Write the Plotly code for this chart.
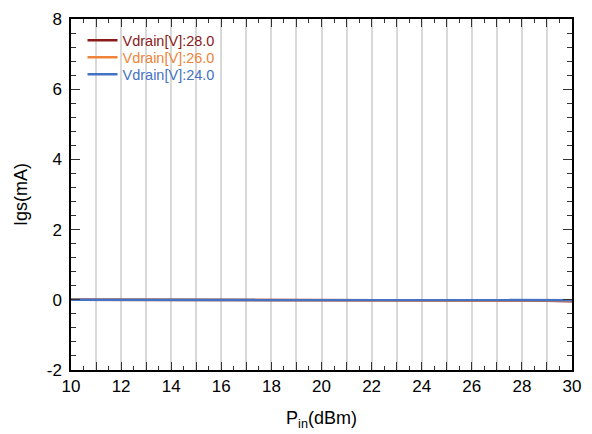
import plotly.graph_objects as go

pin = [10, 11, 12, 13, 14, 15, 16, 17, 18, 19, 20, 21, 22, 23, 24, 25, 26, 27, 28, 29, 30]
igs_28 = [0, 0, 0, 0, 0, 0, 0, 0, 0, 0, 0, 0, 0, 0, 0, 0, -0.005, -0.01, -0.02, -0.03, -0.04]
igs_26 = [0, 0, 0, 0, 0, 0, 0, 0, 0, 0, 0, 0, 0, 0, 0, 0, -0.005, -0.01, -0.015, -0.02, -0.03]
igs_24 = [0, 0, 0, 0, 0, 0, 0, 0, 0, 0, 0, 0, 0, 0, 0, 0, 0, 0, 0, -0.005, -0.01]
series_names = ["Vdrain[V]:28.0", "Vdrain[V]:26.0", "Vdrain[V]:24.0"]
colors = ["#8B1A1A", "#F0833A", "#4472C4"]
x_tickvals = list(range(10, 31))
x_ticktext = [str(v) if v % 2 == 0 else "" for v in x_tickvals]
y_tickvals = [-2, 0, 2, 4, 6, 8]
y_ticktext = ["-2", "0", "2", "4", "6", "8"]

legend_ids = ["legend", "legend2", "legend3"]
legend_tops = [0.985, 0.9365, 0.888]

fig = go.Figure()
for name, ys, c, lg in zip(series_names, [igs_28, igs_26, igs_24], colors, legend_ids):
    fig.add_trace(go.Scatter(x=pin, y=ys, mode="lines",
                             name=f"<span style='color:{c}'>{name}</span>",
                             legend=lg,
                             line=dict(color=c, width=2.5)))

legend_style = dict(x=0.023, xanchor="left", yanchor="top",
                    bgcolor="rgba(0,0,0,0)", font=dict(size=14.5),
                    tracegroupgap=0, itemwidth=30)
fig.update_layout(
    width=592, height=434,
    margin=dict(l=71, r=20, t=19, b=64),
    paper_bgcolor="white", plot_bgcolor="white",
    font=dict(family="Liberation Sans, Arial, sans-serif", color="black"),
    showlegend=True,
    legend=dict(y=legend_tops[0], **legend_style),
    legend2=dict(y=legend_tops[1], **legend_style),
    legend3=dict(y=legend_tops[2], **legend_style),
)
fig.update_xaxes(
    range=[10, 30], tickmode="array", tickvals=x_tickvals, ticktext=x_ticktext,
    ticks="inside", ticklen=8, tickwidth=1.3, tickcolor="#333",
    showgrid=True, gridcolor="#d9d9d9", gridwidth=1.5,
    showline=True, linecolor="black", linewidth=1.5, mirror="allticks",
    minor=dict(dtick=0.5, tick0=10, ticks="inside", ticklen=4, tickcolor="#333", showgrid=False),
    tickfont=dict(size=17), zeroline=False, automargin=False,
    title=dict(text="P<sub>in</sub>(dBm)", font=dict(size=18), standoff=16),
)
fig.update_yaxes(
    range=[-2, 8], tickmode="array", tickvals=y_tickvals, ticktext=y_ticktext,
    ticks="inside", ticklen=9, tickwidth=1.3, tickcolor="#333",
    showgrid=False, zeroline=False, automargin=False,
    showline=True, linecolor="black", linewidth=1.5, mirror="allticks",
    minor=dict(dtick=0.4, tick0=0, ticks="inside", ticklen=5, tickcolor="#333", showgrid=False),
    tickfont=dict(size=17), ticklabelstandoff=4,
    title=dict(text="Igs(mA)", font=dict(size=18), standoff=14),
)

fig.write_html("out.html", config={"displayModeBar": False},
               post_script="document.body.style.margin='0px';")
